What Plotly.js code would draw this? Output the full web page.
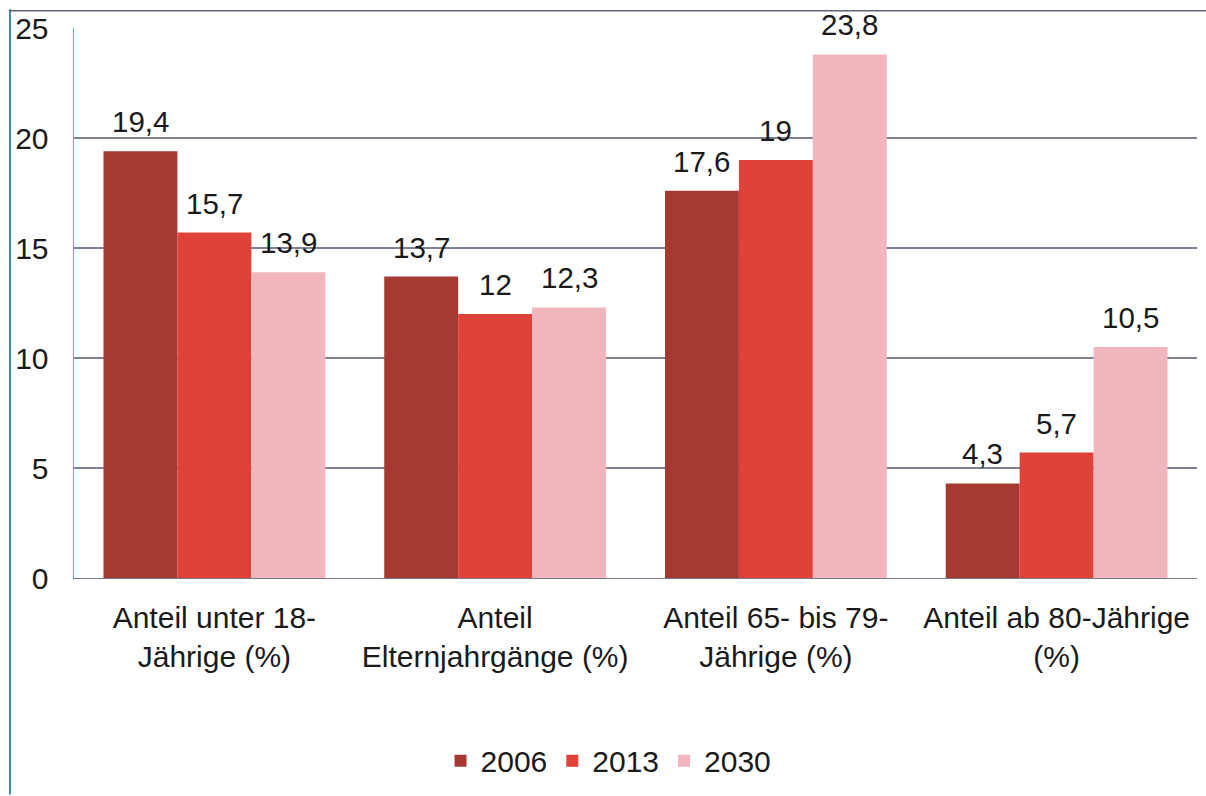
<!DOCTYPE html>
<html>
<head>
<meta charset="utf-8">
<script src="https://cdn.plot.ly/plotly-3.0.1.min.js"></script>
<style>
  html, body { margin: 0; padding: 0; background: #ffffff; }
  #chart { width: 1206px; height: 796px; }
</style>
</head>
<body>
<div id="chart"></div>
<script>
const categories = [
  "Anteil unter 18-<br>Jährige (%)",
  "Anteil<br>Elternjahrgänge (%)",
  "Anteil 65- bis 79-<br>Jährige (%)",
  "Anteil ab 80-Jährige<br>(%)"
];
const seriesNames = ["2006", "2013", "2030"];
const values2006 = [19.4, 13.7, 17.6, 4.3];
const values2013 = [15.7, 12, 19, 5.7];
const values2030 = [13.9, 12.3, 23.8, 10.5];
const colors = ["#a63a33", "#de4238", "#f1b5be"];
const yTicks = [0, 5, 10, 15, 20, 25];

const fmt = v => String(v).replace('.', ',');
const allValues = [values2006, values2013, values2030];

const FONT = "Liberation Sans, Arial, sans-serif";

// plot area: x 74..1197, y 28..582
const L = 74, R = 1197, T = 28, B = 582, W = 1206, H = 796;
const px = x => (x - L) / (R - L);
const py = y => (B - y) / (B - T);
const BARGAP = 0.21;
const nSeries = allValues.length;
const catWidth = (R - L) / categories.length;
const barWidth = catWidth * (1 - BARGAP) / nSeries;

const traces = allValues.map((vals, i) => ({
  type: 'bar',
  name: seriesNames[i],
  x: categories,
  y: vals,
  marker: { color: colors[i], line: { width: 0 } },
  hoverinfo: 'skip'
}));

// value labels above each bar, placed through the axes
const annotations = [];
allValues.forEach((vals, i) => {
  vals.forEach((v, j) => {
    annotations.push({
      x: categories[j], y: v, xref: 'x', yref: 'y',
      text: fmt(v), showarrow: false,
      xanchor: 'center', yanchor: 'bottom',
      xshift: (i - (nSeries - 1) / 2) * barWidth,
      yshift: 11,
      font: { family: FONT, size: 29.5, color: '#1a1a1a' }
    });
  });
});

const layout = {
  width: W, height: H,
  margin: { l: L, r: W - R, t: T, b: H - B, pad: 0 },
  paper_bgcolor: '#ffffff',
  plot_bgcolor: '#ffffff',
  font: { family: FONT, size: 30, color: '#1a1a1a' },
  barmode: 'group',
  bargap: BARGAP,
  bargroupgap: 0,
  showlegend: true,
  legend: {
    orientation: 'h',
    x: 0.476, xanchor: 'center',
    y: py(766), yanchor: 'middle',
    font: { family: FONT, size: 30, color: '#1a1a1a' },
    itemwidth: 30,
    traceorder: 'normal'
  },
  xaxis: {
    type: 'category',
    showgrid: false,
    showline: true,
    linecolor: '#767a90',
    linewidth: 1.2,
    ticks: '',
    ticklabelstandoff: 13,
    tickfont: { family: FONT, size: 30, color: '#1a1a1a' },
    zeroline: false
  },
  yaxis: {
    range: [0, 25],
    tickvals: yTicks,
    ticktext: yTicks.map(String),
    showgrid: true,
    gridcolor: '#7c8198',
    gridwidth: 1.2,
    showline: true,
    linecolor: '#4ab3da',
    linewidth: 1.5,
    zeroline: false,
    ticks: '',
    ticklabelstandoff: 18,
    tickfont: { family: FONT, size: 30, color: '#1a1a1a' }
  },
  annotations: annotations,
  shapes: [
    // outer frame of the scanned page
    { type: 'line', xref: 'paper', yref: 'paper', x0: px(10), x1: px(10), y0: py(9), y1: py(800),
      line: { color: '#3f8ab8', width: 2 } },
    { type: 'line', xref: 'paper', yref: 'paper', x0: px(9), x1: px(1206), y0: py(10.5), y1: py(10.5),
      line: { color: '#5f6378', width: 1.5 } }
  ]
};

Plotly.newPlot('chart', traces, layout, { staticPlot: true, displayModeBar: false });
</script>
</body>
</html>
